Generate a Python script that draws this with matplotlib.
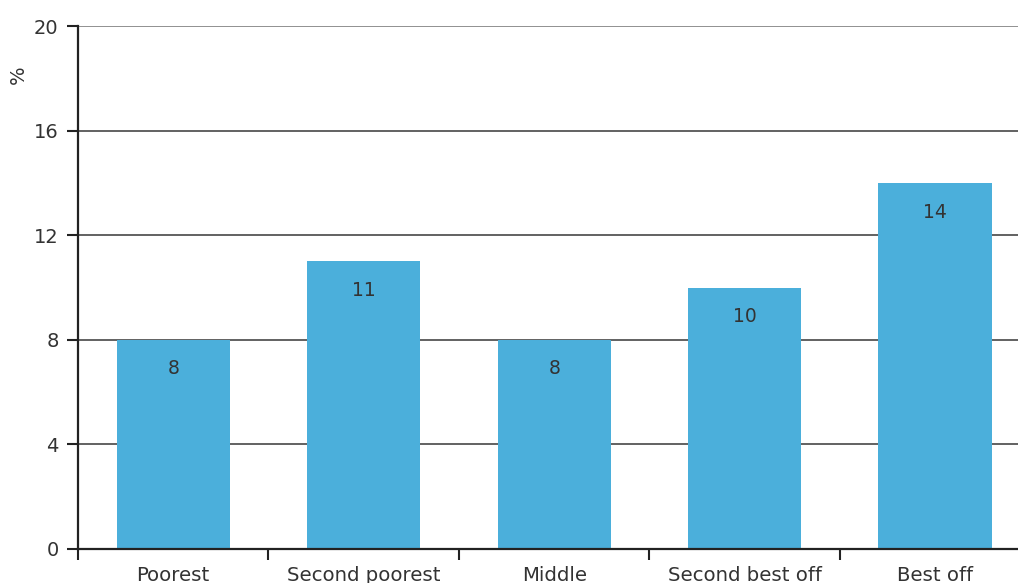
import matplotlib
matplotlib.use("Agg")
import matplotlib.pyplot as plt
import numpy as np

categories = ["Poorest", "Second poorest", "Middle", "Second best off", "Best off"]
values = [8, 11, 8, 10, 14]
yticks = [0, 4, 8, 12, 16, 20]

BAR = "#4BAFDB"
TXT = "#333333"

plt.rcParams["font.family"] = ["DejaVu Sans"]

fig = plt.figure(figsize=(10.18, 5.83), dpi=100)
ax = fig.add_axes([78 / 1018, 34 / 583, 1 - 78 / 1018, 523 / 583])

x = np.arange(len(categories))
ax.bar(x, values, width=0.595, color=BAR, zorder=3)

# value labels sit ~29 px below the bar top
for xi, v in zip(x, values):
    ax.annotate(str(v), (xi, v), xytext=(0, -21), textcoords="offset points",
                ha="center", va="center", fontsize=13.5, color=TXT, zorder=4)

ax.set_ylim(0, 20)
ax.set_xlim(-0.5, 4.435)
ax.set_yticks(yticks)
ax.set_yticklabels([str(t) for t in yticks], fontsize=14, color=TXT)
for t in yticks[1:]:
    ax.axhline(t, color="#888888" if t == 20 else "#555555", lw=1.3, zorder=1)

# boundary ticks on major, category labels on minor
ax.set_xticks(np.arange(-0.5, len(categories) - 0.5, 1.0))
ax.set_xticklabels([])
ax.set_xticks(x, minor=True)
ax.set_xticklabels(categories, minor=True, fontsize=14.2, color=TXT)
ax.tick_params(axis="x", which="major", direction="out", length=8, width=1.5, color="#222222")
ax.tick_params(axis="x", which="minor", length=0, pad=12.5)
ax.tick_params(axis="y", direction="out", length=8, width=1.5, color="#222222", pad=6)

for s in ["top", "right"]:
    ax.spines[s].set_visible(False)
for s in ["left", "bottom"]:
    ax.spines[s].set_color("#222222")
    ax.spines[s].set_linewidth(1.6)
    ax.spines[s].set_zorder(5)

fig.text(18 / 1018, 1 - 75 / 583, "%", rotation=90, ha="center", va="center",
         fontsize=14, color=TXT)

fig.savefig("out.png", dpi=100)
